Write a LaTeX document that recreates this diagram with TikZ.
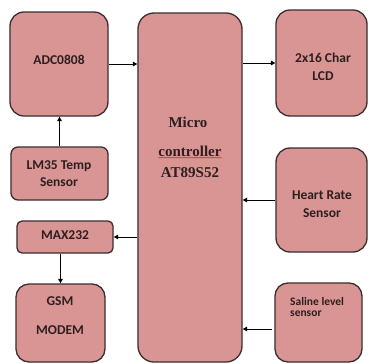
\documentclass[tikz,border=0pt]{standalone}
\usepackage{fontspec}
\setmainfont{Carlito}
\newfontfamily\serifb{Liberation Serif}
\usetikzlibrary{arrows.meta}
\definecolor{boxfill}{HTML}{D99594}
\definecolor{boxline}{HTML}{3A2E2E}
\definecolor{txt}{HTML}{2E1E1E}
\definecolor{squig}{HTML}{5E5E30}
\tikzset{
  box/.style={draw=boxline, fill=boxfill, line width=1.3bp, inner sep=0pt},
  lbl/.style={text=txt, font=\fontsize{13.5bp}{18bp}\selectfont\bfseries, align=center, inner sep=0pt},
  mlbl/.style={text=txt, font=\serifb\fontsize{15bp}{18bp}\selectfont\bfseries, inner sep=0pt, anchor=base},
  sal/.style={text=txt, font=\fontsize{11.5bp}{11bp}\selectfont\bfseries, inner sep=0pt, anchor=base west},
  arr/.style={draw=black, line width=1bp, -{Triangle[length=4.5bp,width=4.5bp]}}
}
\begin{document}
\begin{tikzpicture}[x=1bp,y=-1bp]
\useasboundingbox (0,0) rectangle (368,363);
% boxes
\node[box, rounded corners=14bp, minimum width=98bp, minimum height=104bp] (adc) at (59,64) {};
\node[box, rounded corners=7bp, minimum width=97bp, minimum height=53bp] (lm35) at (59.5,173.5) {};
\node[box, rounded corners=5bp, minimum width=96bp, minimum height=32bp] (max) at (65,237) {};
\node[box, rounded corners=13bp, minimum width=89bp, minimum height=78bp] (gsm) at (60.5,323) {};
\node[box, rounded corners=16bp, minimum width=104bp, minimum height=349bp] (micro) at (190,187.5) {};
\node[box, rounded corners=14bp, minimum width=91bp, minimum height=106bp] (lcd) at (321.5,63) {};
\node[box, rounded corners=14bp, minimum width=91bp, minimum height=104bp] (heart) at (321.5,200) {};
\node[box, rounded corners=13bp, minimum width=87bp, minimum height=79bp] (saline) at (318.5,322.5) {};
% labels
\node[lbl] (tadc) at (59,60) {ADC0808};
\node[lbl] (tlcd) at (323,67) {2x16 Char\\LCD};
\node[lbl, font=\fontsize{13.5bp}{17bp}\selectfont\bfseries] (tlm) at (59,173.5) {LM35 Temp\\Sensor};
\node[lbl] (tmax) at (65,235) {MAX232};
\node[lbl, font=\fontsize{13.5bp}{29bp}\selectfont\bfseries] (tgsm) at (60,315.5) {GSM\\MODEM};
\node[lbl] (theart) at (322,204) {Heart Rate\\Sensor};
\node[sal] (tsal1) at (290,305) {Saline level};
\node[sal] (tsal2) at (290,316) {sensor};
\node[mlbl] (tm1) at (188,127) {Micro};
\node[mlbl] (tm2) at (190,156) {controller};
\node[mlbl] (tm3) at (190,177) {AT89S52};
\draw[squig, line width=0.8bp] (tm2.south west) ++(0,1.5) -- ([yshift=-1.5bp]tm2.south east);
% connectors
\draw[arr] (adc.east) -- (adc.east -| micro.west);
\draw[arr] (micro.east |- lcd.west) -- (lcd.west);
\draw[arr] (lm35.north) -- (lm35.north |- adc.south);
\draw[arr] (micro.west |- max.east) -- (max.east);
\draw[arr] (max.south -| gsm.north) -- (gsm.north);
\draw[arr] (heart.west) -- (heart.west -| micro.east);
\coordinate (s1) at ([xshift=-2bp,yshift=-6.5bp]saline.west);
\draw[arr] (s1) -- (s1 -| micro.east);
\end{tikzpicture}
\end{document}
